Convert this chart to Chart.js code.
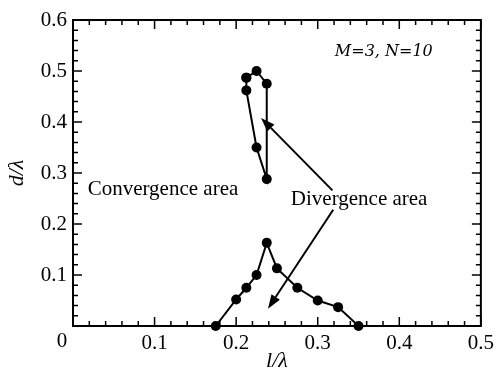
<!DOCTYPE html>
<html>
<head>
<meta charset="utf-8">
<script src="https://cdn.jsdelivr.net/npm/chart.js@4"></script>
<style>
  body { margin: 0; background: #fff; }
  canvas { display: block; }
</style>
</head>
<body>
<canvas id="chart" width="499" height="372"></canvas>
<script>
// Data
const loopX = [0.2125, 0.225, 0.2375, 0.2375, 0.225, 0.2125, 0.2125];
const loopY = [0.487, 0.5, 0.475, 0.288, 0.35, 0.462, 0.487];
const lowerX = [0.175, 0.2, 0.2125, 0.225, 0.2375, 0.25, 0.275, 0.3, 0.325, 0.35];
const lowerY = [0, 0.052, 0.075, 0.1, 0.163, 0.113, 0.075, 0.05, 0.037, 0];
const xTicks = [0, 0.1, 0.2, 0.3, 0.4, 0.5];
const yTicks = [0, 0.1, 0.2, 0.3, 0.4, 0.5, 0.6];

const serif = "'Liberation Serif', 'Times New Roman', serif";

function toPoints(xs, ys) {
    return xs.map((x, i) => ({ x: x, y: ys[i] }));
}

// Inside ticks, frame, arrows and the text notes
const decorations = {
    id: 'decorations',
    afterDraw(chart) {
        const ctx = chart.ctx;
        const xs = chart.scales.x;
        const ys = chart.scales.y;
        const a = chart.chartArea;
        ctx.save();
        ctx.strokeStyle = '#000';
        ctx.fillStyle = '#000';

        // frame
        ctx.lineWidth = 2;
        ctx.strokeRect(a.left, a.top, a.right - a.left, a.bottom - a.top);

        // ticks on all four sides, majors every 0.1, minors every 0.02
        ctx.lineWidth = 1.5;
        for (let i = 0; i <= 25; i++) {
            const px = xs.getPixelForValue(i * 0.02);
            const len = i % 5 === 0 ? 9 : 5;
            ctx.beginPath();
            ctx.moveTo(px, a.bottom); ctx.lineTo(px, a.bottom - len);
            ctx.moveTo(px, a.top); ctx.lineTo(px, a.top + len);
            ctx.stroke();
        }
        for (let i = 0; i <= 30; i++) {
            const py = ys.getPixelForValue(i * 0.02);
            const len = i % 5 === 0 ? 9 : 5;
            ctx.beginPath();
            ctx.moveTo(a.left, py); ctx.lineTo(a.left + len, py);
            ctx.moveTo(a.right, py); ctx.lineTo(a.right - len, py);
            ctx.stroke();
        }

        // origin label
        ctx.font = '21px ' + serif;
        ctx.textAlign = 'center';
        ctx.textBaseline = 'top';
        ctx.fillText('0', xs.getPixelForValue(0) - 11, a.bottom + 5);

        // arrows
        function arrow(x1, y1, x2, y2) {
            const sx = xs.getPixelForValue(x1), sy = ys.getPixelForValue(y1);
            const ex = xs.getPixelForValue(x2), ey = ys.getPixelForValue(y2);
            const ang = Math.atan2(ey - sy, ex - sx);
            const len = 14, half = 5;
            const bx = ex - len * Math.cos(ang), by = ey - len * Math.sin(ang);
            ctx.lineWidth = 2;
            ctx.beginPath();
            ctx.moveTo(sx, sy); ctx.lineTo(bx, by);
            ctx.stroke();
            ctx.beginPath();
            ctx.moveTo(ex, ey);
            ctx.lineTo(bx + half * Math.sin(ang), by - half * Math.cos(ang));
            ctx.lineTo(bx - half * Math.sin(ang), by + half * Math.cos(ang));
            ctx.closePath();
            ctx.fill();
        }
        arrow(0.318, 0.266, 0.2305, 0.408);
        arrow(0.319, 0.228, 0.239, 0.034);

        // notes
        ctx.textAlign = 'left';
        ctx.textBaseline = 'alphabetic';
        ctx.font = '21px ' + serif;
        ctx.fillText('Convergence area', xs.getPixelForValue(0.018), ys.getPixelForValue(0.257));
        ctx.fillText('Divergence area', xs.getPixelForValue(0.267), ys.getPixelForValue(0.238));
        ctx.font = 'italic 16px "DejaVu Serif", serif';
        ctx.fillText('M=3, N=10', xs.getPixelForValue(0.321), ys.getPixelForValue(0.53));
        ctx.restore();
    }
};

const pointStyle = {
    showLine: true,
    borderColor: '#000',
    backgroundColor: '#000',
    borderWidth: 2,
    pointRadius: 5,
    pointHoverRadius: 5,
    pointBackgroundColor: '#000',
    pointBorderColor: '#000',
    pointBorderWidth: 0,
    tension: 0,
    clip: false
};

new Chart(document.getElementById('chart'), {
    type: 'scatter',
    data: {
        datasets: [
            Object.assign({ label: 'loop', data: toPoints(loopX, loopY) }, pointStyle),
            Object.assign({ label: 'lower', data: toPoints(lowerX, lowerY) }, pointStyle)
        ]
    },
    options: {
        responsive: false,
        animation: false,
        layout: { padding: { left: 0, right: 17, top: 20, bottom: 0 } },
        plugins: {
            legend: { display: false },
            tooltip: { enabled: false }
        },
        scales: {
            x: {
                type: 'linear',
                min: 0,
                max: 0.5,
                afterBuildTicks: s => { s.ticks = xTicks.map(v => ({ value: v })); },
                afterFit: s => { s.height = 46; },
                grid: { display: false, drawTicks: false, tickLength: 0 },
                border: { display: false },
                ticks: {
                    color: '#000',
                    padding: 5,
                    maxRotation: 0,
                    font: { family: serif, size: 21 },
                    callback: v => v === 0 ? '' : v.toFixed(1)
                },
                title: {
                    display: true,
                    text: 'l/λ',
                    color: '#000',
                    padding: { top: 0, bottom: -2 },
                    font: { family: serif, size: 22, style: 'italic' }
                }
            },
            y: {
                type: 'linear',
                min: 0,
                max: 0.6,
                afterBuildTicks: s => { s.ticks = yTicks.map(v => ({ value: v })); },
                afterFit: s => { s.width = 73; },
                grid: { display: false, drawTicks: false, tickLength: 0 },
                border: { display: false },
                ticks: {
                    color: '#000',
                    padding: 6,
                    font: { family: serif, size: 21 },
                    callback: v => v === 0 ? '' : v.toFixed(1)
                },
                title: {
                    display: true,
                    text: 'd/λ',
                    color: '#000',
                    padding: { top: 4, bottom: 0 },
                    font: { family: serif, size: 22, style: 'italic' }
                }
            }
        }
    },
    plugins: [decorations]
});
</script>
</body>
</html>
